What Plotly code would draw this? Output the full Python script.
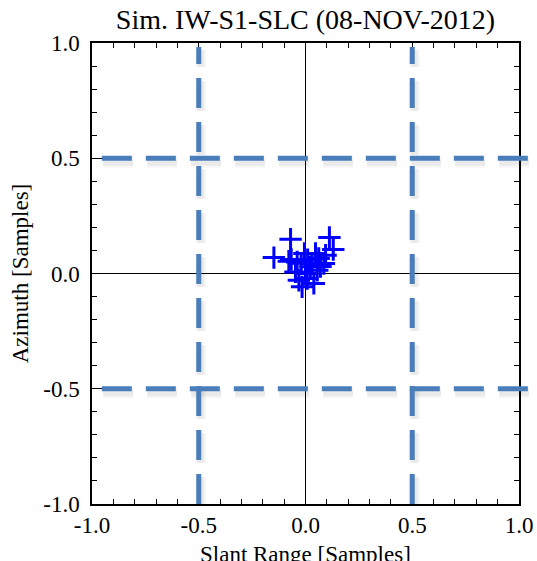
import plotly.graph_objects as go

# Offsets of the matched points (samples)
slant_range = [-0.070, 0.112, 0.130, -0.148, -0.067, -0.078, -0.039, -0.005, 0.047, 0.062,
               0.094, 0.086, 0.031, -0.047, 0.055, 0.000, -0.031, -0.016, 0.039, 0.008,
               0.023, -0.020, 0.010, 0.070]
azimuth = [0.149, 0.156, 0.104, 0.069, 0.061, 0.053, 0.050, 0.087, 0.087, 0.065,
           0.079, 0.043, 0.043, 0.007, 0.014, 0.000, -0.029, -0.058, -0.043, -0.022,
           0.029, 0.045, 0.060, 0.030]

# Half-sample reference lines
ref_x = [-0.5, 0.5]
ref_y = [-0.5, 0.5]

tick_vals = [-1.0, -0.5, 0.0, 0.5, 1.0]
tick_text = ["-1.0", "-0.5", "0.0", "0.5", "1.0"]

serif = "Liberation Serif, Times New Roman, serif"
line_blue = "#4A7EBB"

W, H = 537, 561
ML, MR, MT, MB = 92, 18, 43, 57
px_x = (W - ML - MR) / 2.0  # pixels per sample, x
px_y = (H - MT - MB) / 2.0  # pixels per sample, y

fig = go.Figure()

fig.add_trace(go.Scatter(
    x=slant_range, y=azimuth, mode="markers",
    marker=dict(symbol="cross-thin", size=16, line=dict(color="#0000FF", width=3)),
    showlegend=False, hoverinfo="x+y",
))

shapes = []
dash = "30px,14px"
# soft drop shadows first, then the dashed lines on top
for v in ref_x:
    for w, a in [(11, 0.03), (7, 0.05)]:
        shapes.append(dict(type="line", xref="x", yref="y",
                           x0=v + 2 / px_x, x1=v + 2 / px_x, y0=-1 - 3 / px_y, y1=1.0 - 7 / px_y,
                           line=dict(color=f"rgba(0,0,0,{a})", width=w, dash=dash), layer="above"))
for v in ref_y:
    for w, a in [(11, 0.03), (7, 0.05)]:
        shapes.append(dict(type="line", xref="paper", yref="y",
                           x0=0.026, x1=1.1, y0=v - 4 / px_y, y1=v - 4 / px_y,
                           line=dict(color=f"rgba(0,0,0,{a})", width=w, dash=dash), layer="above"))
for v in ref_x:
    shapes.append(dict(type="line", xref="x", yref="y",
                       x0=v, x1=v, y0=-1.0, y1=1.0 - 4 / px_y,
                       line=dict(color=line_blue, width=5, dash=dash), layer="above"))
for v in ref_y:
    shapes.append(dict(type="line", xref="paper", yref="y",
                       x0=0.023, x1=1.1, y0=v, y1=v,
                       line=dict(color=line_blue, width=5, dash=dash), layer="above"))

axis_common = dict(
    range=[-1.0, 1.0], showgrid=False, automargin=False,
    zeroline=True, zerolinecolor="black", zerolinewidth=1,
    showline=True, linecolor="black", linewidth=1.5, mirror="allticks",
    ticks="inside", ticklen=10, tickwidth=1, tickcolor="black",
    tickvals=tick_vals, ticktext=tick_text,
    minor=dict(ticks="inside", ticklen=5, tickwidth=1, tickcolor="black", dtick=0.1),
    tickfont=dict(family=serif, size=23, color="black"),
)

plot_h = H - MT - MB

fig.update_layout(
    width=W, height=H,
    margin=dict(l=ML, r=MR, t=MT, b=MB),
    paper_bgcolor="white", plot_bgcolor="white",
    title=dict(text="Sim. IW-S1-SLC (08-NOV-2012)", x=(ML + (W - ML - MR) / 2) / W,
               xanchor="center", y=1 - 19 / H, yanchor="middle",
               font=dict(family=serif, size=28, color="black")),
    xaxis=dict(**axis_common, ticklabelstandoff=0),
    yaxis=dict(**axis_common, ticklabelstandoff=6,
               title=dict(text="Azimuth [Samples]", standoff=8,
                          font=dict(family=serif, size=23, color="black"))),
    shapes=shapes,
    annotations=[dict(text="Slant Range [Samples]", xref="paper", yref="paper",
                      x=0.5, y=-50 / plot_h, xanchor="center", yanchor="middle",
                      showarrow=False, font=dict(family=serif, size=23, color="black"))],
)

fig.write_html("out.html")
